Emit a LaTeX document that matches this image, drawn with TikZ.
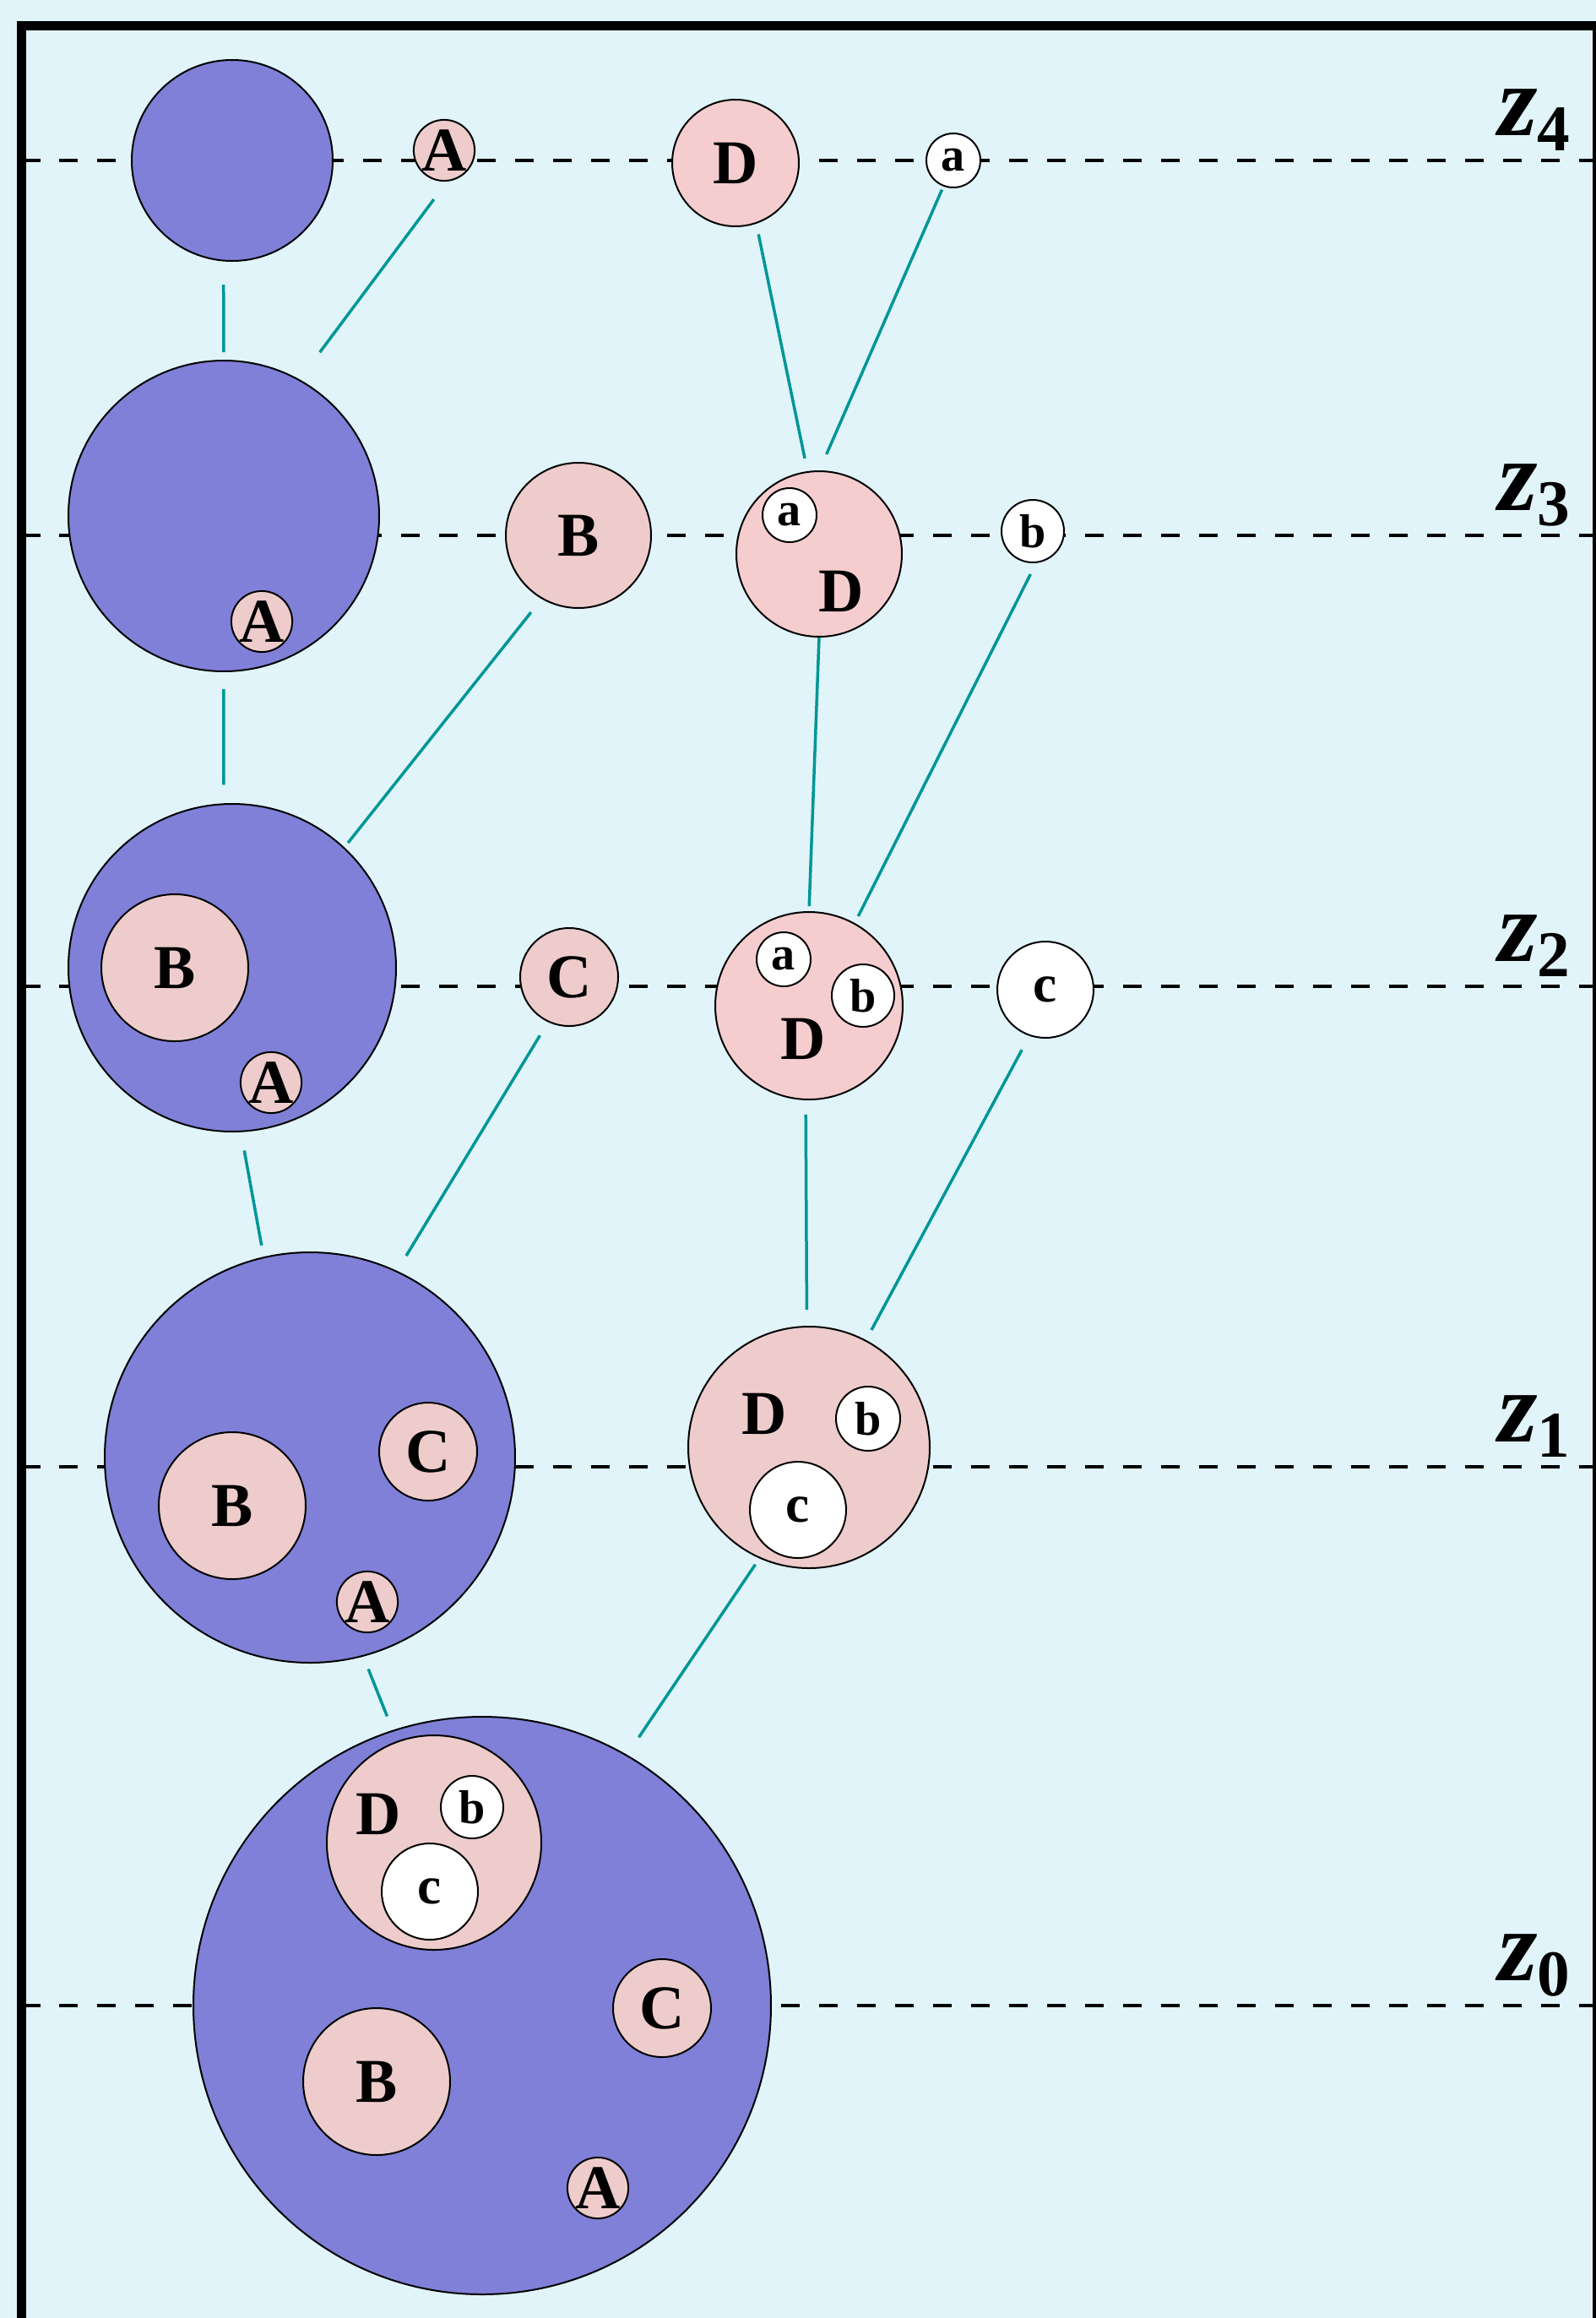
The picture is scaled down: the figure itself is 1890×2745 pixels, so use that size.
\documentclass[tikz,border=0pt]{standalone}
\usepackage{fontspec}
\setmainfont{Liberation Serif}
\newfontface\zface{Liberation Serif Bold Italic}

\definecolor{sky}{RGB}{224,244,250}
\definecolor{cellblue}{RGB}{128,128,216}
\definecolor{rose}{RGB}{238,204,204}
\definecolor{blush}{RGB}{245,205,207}
\definecolor{lineteal}{RGB}{0,150,150}

\tikzset{
  blob/.style={circle, draw, line width=0.2mm, inner sep=0pt, outer sep=0pt},
  rad/.style={minimum size=#1*0.2mm},
  cell/.style={blob, fill=cellblue},
  part/.style={blob, fill=rose, font=\fontsize{21}{21}\selectfont\bfseries},
  core/.style={part, fill=blush},
  gene/.style={blob, fill=white, font=\fontsize{16}{16}\selectfont\bfseries},
  bigc/.style={gene, font=\fontsize{18}{18}\selectfont\bfseries},
  tag/.style={inner sep=0pt, font=\fontsize{21}{21}\selectfont\bfseries},
  level/.style={line width=0.4mm, dash pattern=on 2.25mm off 2.25mm},
  link/.style={lineteal, line width=0.35mm},
  zlab/.style={anchor=base east, inner sep=0pt, font=\fontsize{34}{34}\selectfont\bfseries}
}

\begin{document}
\begin{tikzpicture}[x=0.1mm, y=-0.1mm]
\clip (0,0) rectangle (1890,2745);
\fill[sky] (0,0) rectangle (1890,2745);

% level lines
\draw[level] (25,190) -- (1890,190);
\draw[level] (25,634) -- (1890,634);
\draw[level] (25,1168) -- (1890,1168);
\draw[level] (25,1737) -- (1890,1737);
\draw[level] (25,2375) -- (1890,2375);

\node[zlab] (z4) at (1860,160) {{\zface z}\raisebox{-1.8mm}{\fontsize{22}{22}\selectfont 4}};
\node[zlab] (z3) at (1860,604) {{\zface z}\raisebox{-1.8mm}{\fontsize{22}{22}\selectfont 3}};
\node[zlab] (z2) at (1860,1138) {{\zface z}\raisebox{-1.8mm}{\fontsize{22}{22}\selectfont 2}};
\node[zlab] (z1) at (1860,1707) {{\zface z}\raisebox{-1.8mm}{\fontsize{22}{22}\selectfont 1}};
\node[zlab] (z0) at (1860,2345) {{\zface z}\raisebox{-1.8mm}{\fontsize{22}{22}\selectfont 0}};

% z_4
\node[cell, rad=119] (cell4) at (275,190) {};
\node[part, rad=36] (A4) at (526,178) {A};
\node[core, rad=75] (D4) at (871,193) {D};
\node[gene, rad=32] (a4) at (1129,190) {a};

% z_3
\node[cell, rad=184] (cell3) at (265,611) {};
\node[part, rad=36] (cell3A) at (310,736) {A};
\node[part, rad=86] (B3) at (685,634) {B};
\node[core, rad=98] (D3) at (970,656) {};
\node[gene, rad=32] (D3a) at (935,610) {a};
\node[tag] (D3lab) at (996,700) {D};
\node[gene, rad=37] (b3) at (1223,629) {b};

% z_2
\node[cell, rad=194] (cell2) at (275,1146) {};
\node[part, rad=87] (cell2B) at (207,1146) {B};
\node[part, rad=36] (cell2A) at (321,1282) {A};
\node[part, rad=58] (C2) at (674,1157) {C};
\node[core, rad=111] (D2) at (958,1191) {};
\node[gene, rad=32] (D2a) at (928,1136) {a};
\node[gene, rad=37] (D2b) at (1022,1179) {b};
\node[tag] (D2lab) at (951,1230) {D};
\node[bigc, rad=57] (c2) at (1238,1172) {c};

% z_1
\node[cell, rad=243] (cell1) at (367,1726) {};
\node[part, rad=87] (cell1B) at (275,1783) {B};
\node[part, rad=58] (cell1C) at (507,1719) {C};
\node[part, rad=36] (cell1A) at (435,1897) {A};
\node[part, rad=143] (D1) at (958,1714) {};
\node[tag] (D1lab) at (905,1674) {D};
\node[gene, rad=38] (D1b) at (1028,1680) {b};
\node[bigc, rad=57] (D1c) at (945,1788) {c};

% z_0
\node[cell, rad=342] (cell0) at (571,2375) {};
\node[part, rad=127] (cell0D) at (514,2182) {};
\node[tag] (cell0Dlab) at (448,2148) {D};
\node[gene, rad=37] (cell0Db) at (559,2140) {b};
\node[bigc, rad=57] (cell0Dc) at (509,2240) {c};
\node[part, rad=58] (cell0C) at (784,2378) {C};
\node[part, rad=87] (cell0B) at (446,2465) {B};
\node[part, rad=36] (cell0A) at (708,2591) {A};

% merger links
\draw[link, shorten <=2.85mm, shorten >=1mm] (cell4.-95.3) -- (cell3.90.3);
\draw[link, shorten <=2.77mm, shorten >=4.1mm] (A4.-83.5) -- (cell3.61.1);
\draw[link, shorten <=1.38mm, shorten >=1.65mm] (D4.-71.1) -- (D3.98.6);
\draw[link, shorten <=0.52mm, shorten >=2.19mm] (a4.-111.8) -- (D3.90.7);

\draw[link, shorten <=2.1mm, shorten >=2.28mm] (cell3.-90.3) -- (cell2.93.3);
\draw[link, shorten <=2.11mm, shorten >=0.77mm] (B3.-120.7) -- (cell2.47.1);
\draw[link, shorten <=0.1mm, shorten >=0.7mm] (D3.-90) -- (D2.90);
\draw[link, shorten <=1.6mm, shorten >=1mm] (b3.-83.5) -- (D2.61.4);

\draw[link, shorten <=2.31mm, shorten >=1.46mm] (cell2.-87.9) -- (cell1.103);
\draw[link, shorten <=1.95mm, shorten >=2.19mm] (C2.-115.4) -- (cell1.65);
\draw[link, shorten <=1.8mm, shorten >=2mm] (D2.-92) -- (D1.91.2);
\draw[link, shorten <=1.97mm, shorten >=1.45mm] (c2.-109.6) -- (D1.62);

\draw[link, shorten <=1.7mm, shorten >=1.86mm] (cell1.-75.6) -- (cell0.108.2);
\draw[link, shorten <=0.97mm, shorten >=2.59mm] (D1.-114.6) -- (cell0.60.5);

% frame
\draw[line width=1.1mm] (25,2800) -- (25,30.5) -- (1891,30.5) -- (1891,2800);
\end{tikzpicture}
\end{document}
